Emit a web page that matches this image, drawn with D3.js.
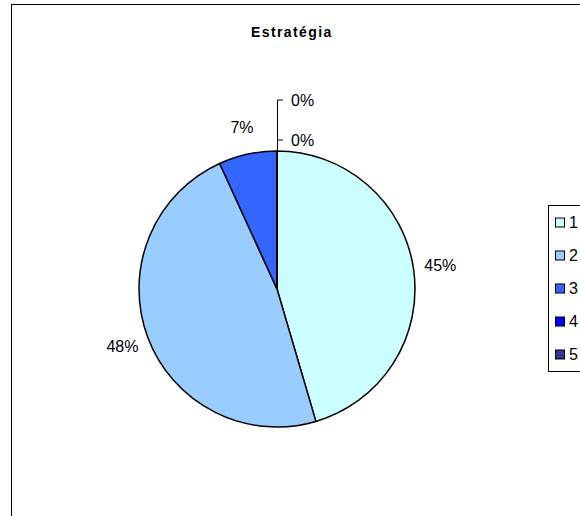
<!DOCTYPE html>
<html><head><meta charset="utf-8">
<script src="https://cdn.jsdelivr.net/npm/d3@7"></script>
<style>body{margin:0;background:#fff}svg{display:block}</style>
</head><body>
<svg id="c" width="580" height="516"></svg>
<script>
const title = "Estratégia";
const categories = ["1", "2", "3", "4", "5"];
const values = [20, 21, 3, 0, 0];
const colors = ["#CCFFFF", "#99CCFF", "#3366FF", "#0000FF", "#333399"];

const svg = d3.select("#c");
const font = "Liberation Sans, Arial, sans-serif";
svg.append("rect").attr("x", 11.5).attr("y", 4.5).attr("width", 700).attr("height", 700)
  .attr("fill", "#fff").attr("stroke", "#000").attr("stroke-width", 1);

svg.append("text").attr("x", 251).attr("y", 37)
  .attr("font-family", font).attr("font-weight", "bold").attr("font-size", 14)
  .attr("letter-spacing", 1.4).text(title);

const cx = 277, cy = 289, r = 138;
const total = d3.sum(values);
const pie = d3.pie().sort(null).value(d => d)(values);
const arc = d3.arc().innerRadius(0).outerRadius(r);
const g = svg.append("g").attr("transform", `translate(${cx},${cy})`);
g.selectAll("path").data(pie).join("path")
  .attr("d", arc).attr("fill", (d, i) => colors[i])
  .attr("stroke", "#000").attr("stroke-width", 1.5).attr("stroke-linejoin", "round");

const fmt = v => Math.round(v / total * 100) + "%";
const labelArc = d3.arc().innerRadius(r + 27).outerRadius(r + 27);
pie.forEach((d, i) => {
  if (d.value > 0) {
    const [x, y] = labelArc.centroid(d);
    g.append("text").attr("x", x).attr("y", y).attr("dy", "0.35em")
      .attr("text-anchor", "middle").attr("font-family", font).attr("font-size", 16)
      .attr("fill", "#000").text(fmt(d.value));
  }
});
const zeroOffsets = [11, 51];
let zi = 0;
pie.forEach((d, i) => {
  if (d.value === 0) {
    const off = zeroOffsets[zi++];
    const yTop = -r - off;
    g.append("path").attr("d", `M0.5,${-r}V${yTop}H6`)
      .attr("fill", "none").attr("stroke", "#000").attr("stroke-width", 1);
    g.append("text").attr("x", 14).attr("y", yTop).attr("dy", "0.35em")
      .attr("font-family", font).attr("font-size", 16).text(fmt(d.value));
  }
});

const lg = svg.append("g");
lg.append("rect").attr("x", 548.5).attr("y", 205.5).attr("width", 60).attr("height", 166)
  .attr("fill", "#fff").attr("stroke", "#000").attr("stroke-width", 1);
categories.forEach((c, i) => {
  const y = 222.5 + i * 33;
  lg.append("rect").attr("x", 555.5).attr("y", y - 4.5).attr("width", 9).attr("height", 9)
    .attr("fill", colors[i]).attr("stroke", "#000").attr("stroke-width", 1);
  lg.append("text").attr("x", 569).attr("y", y).attr("dy", "0.35em")
    .attr("font-family", font).attr("font-size", 16).text(c);
});
</script>
</body></html>
